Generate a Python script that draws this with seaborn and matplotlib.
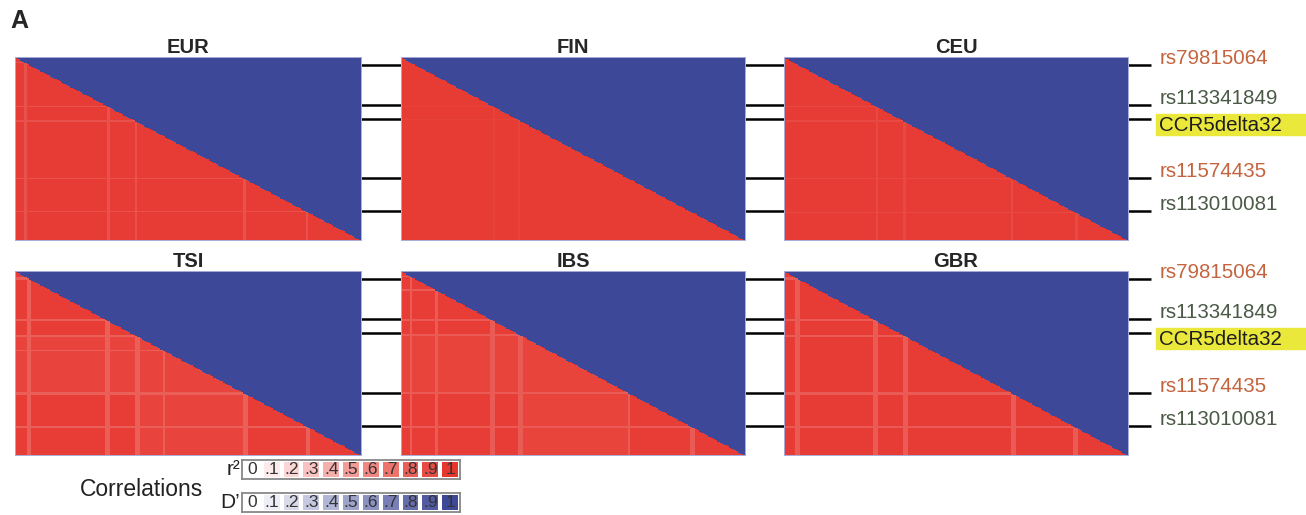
import numpy as np
import matplotlib
matplotlib.use("Agg")
import matplotlib.pyplot as plt
import matplotlib.transforms as mtransforms
from matplotlib.colors import LinearSegmentedColormap
from matplotlib.patches import Rectangle
import seaborn as sns

# ---- data ----
populations = ["EUR", "FIN", "CEU", "TSI", "IBS", "GBR"]
n_snps = 150
snp_names = ["rs79815064", "rs113341849", "CCR5delta32", "rs11574435", "rs113010081"]
snp_rows = [6, 39, 50, 99, 126]

# r2 among the bulk of the region, per population
r2_base = [0.97, 0.975, 0.97, 0.965, 0.965, 0.97]
# SNPs with weaker LD -> pale stripes
eur_stripes = [4, 40, 52, 99, 126]
fin_stripes = [40, 51]
ceu_stripes = [40, 52, 99, 127]
tsi_stripes = [5, 6, 39, 40, 52, 53, 64, 99, 100, 126, 127]
ibs_stripes = [4, 15, 39, 40, 51, 52, 99, 126, 127]
gbr_stripes = [5, 6, 39, 40, 52, 53, 99, 100, 126, 127]
stripes = [eur_stripes, fin_stripes, ceu_stripes, tsi_stripes, ibs_stripes, gbr_stripes]
stripe_r2 = [0.86, 0.94, 0.91, 0.8, 0.82, 0.82]
# slightly paler middle block (first snp, last snp, r2)
block_r2 = [None, None, None, (52, 99, 0.93), (52, 99, 0.935), None]
# D' is ~1 everywhere
d_prime = [1.0, 1.0, 1.0, 1.0, 1.0, 1.0]

legend_values = [0, 0.1, 0.2, 0.3, 0.4, 0.5, 0.6, 0.7, 0.8, 0.9, 1.0]
legend_labels = ["0", ".1", ".2", ".3", ".4", ".5", ".6", ".7", ".8", ".9", "1"]

label_colors = ["#c4643e", "#4b5a47", "#1e1e1e", "#c4643e", "#4b5a47"]

# ---- style ----
sns.set_style("white")
plt.rcParams["font.family"] = ["Liberation Sans", "DejaVu Sans"]

red_cmap = LinearSegmentedColormap.from_list("r2", ["#ffffff", "#e6372f"])
blue_cmap = LinearSegmentedColormap.from_list("dp", ["#ffffff", "#3e4898"])

W, H = 1306, 515
fig = plt.figure(figsize=(W / 100, H / 100), dpi=100)


def px_axes(x0, y0, x1, y1):
    return fig.add_axes([x0 / W, 1 - y1 / H, (x1 - x0) / W, (y1 - y0) / H])


def r2_matrix(k):
    level = np.full(n_snps, r2_base[k])
    if block_r2[k] is not None:
        a, b, v = block_r2[k]
        level[a:b] = v
    level[stripes[k]] = stripe_r2[k]
    return np.minimum.outer(level, level)


cols = [(15, 361), (401, 745), (784, 1128)]
rows = [(57, 240), (271, 455)]
upper = np.triu(np.ones((n_snps, n_snps), dtype=bool))
lower = np.tril(np.ones((n_snps, n_snps), dtype=bool), k=-1)

for k, pop in enumerate(populations):
    r, c = divmod(k, 3)
    x0, x1 = cols[c]
    y0, y1 = rows[r]
    ax = px_axes(x0, y0, x1, y1)
    sns.heatmap(r2_matrix(k), mask=upper, cmap=red_cmap, vmin=0, vmax=1,
                cbar=False, ax=ax, xticklabels=False, yticklabels=False)
    sns.heatmap(np.full((n_snps, n_snps), d_prime[k]), mask=lower, cmap=blue_cmap,
                vmin=0, vmax=1, cbar=False, ax=ax, xticklabels=False, yticklabels=False)
    for s in ax.spines.values():
        s.set_visible(True)
        s.set_color("#a9acd8")
        s.set_linewidth(0.7)
    ax.set_title(pop, fontsize=14.5, fontweight="bold", pad=3)

    # marker ticks reaching across to the next panel / labels
    if c < 2:
        gap = cols[c + 1][0] - x1
    else:
        gap = 23
    ax.set_xticks([])
    ax.set_yticks([i + 0.5 for i in snp_rows])
    ax.set_yticklabels([])
    ax.tick_params(axis="y", left=False, right=True, direction="out",
                   length=gap * 0.72, width=1.8, color="black")

    if c == 2:
        trans = mtransforms.blended_transform_factory(ax.transAxes, ax.transData)
        for name, row, col in zip(snp_names, snp_rows, label_colors):
            dy = -5 if name == "CCR5delta32" else 4.8
            if name == "CCR5delta32":
                yc = ax.transData.transform((0, row + 0.5))[1]
                fig.patches.append(Rectangle((1156 / W, (yc - 16) / H), (W - 1156) / W, 21 / H,
                                             transform=fig.transFigure, color="#ebe83c",
                                             zorder=-1))
            ax.annotate(name, xy=(1, row + 0.5), xycoords=trans,
                        xytext=(22.5, dy), textcoords="offset points",
                        ha="left", va="center", fontsize=14.8, color=col,
                        annotation_clip=False, zorder=5)

fig.text(10 / W, 1 - 28 / H, "A", fontsize=18, fontweight="bold", va="baseline")

# ---- legend ----
for (y0, y1), cmap, lab in [((460, 479), red_cmap, "r²"), ((493, 512), blue_cmap, "D’")]:
    lax = px_axes(242, y0, 460, y1)
    sns.heatmap(np.array([legend_values]), cmap=cmap, vmin=0, vmax=1, cbar=False,
                annot=np.array([legend_labels]), fmt="", linewidths=1.5, linecolor="white",
                xticklabels=False, yticklabels=False, ax=lax,
                annot_kws={"fontsize": 12.5, "color": "#333333"})
    for s in lax.spines.values():
        s.set_visible(True)
        s.set_color("#888888")
        s.set_linewidth(1.3)
    fig.text(240 / W, 1 - (y0 + y1) / 2 / H, lab, fontsize=15, ha="right", va="center",
             color="#222222")

fig.text(80 / W, 1 - 489 / H, "Correlations", fontsize=16.5, ha="left", va="center",
         color="#222222")

fig.savefig("out.png", dpi=100)
